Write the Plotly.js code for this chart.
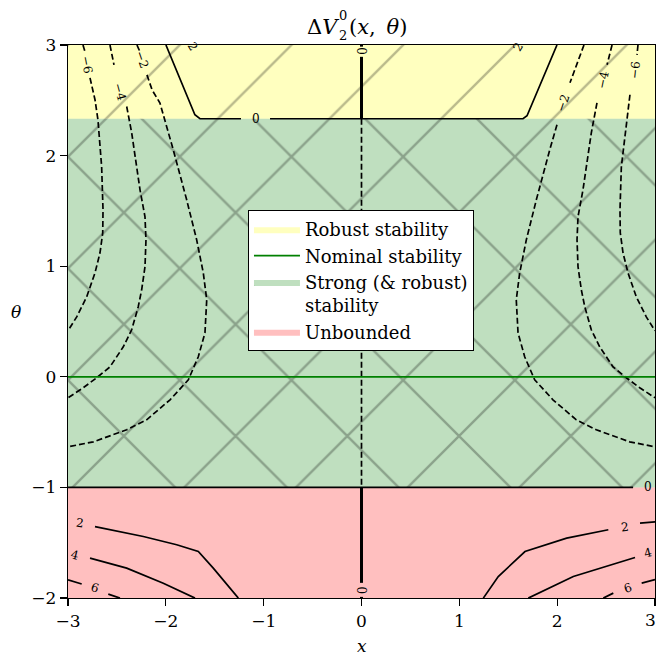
<!DOCTYPE html>
<html><head><meta charset="utf-8">
<script src="https://cdn.plot.ly/plotly-3.0.1.min.js"></script>
<style>html,body{margin:0;padding:0;background:#fff}</style>
</head><body><div id="chart" style="width:657px;height:655px"></div>
<script>
// ---- axis ticks ----
const xTicks = [-3, -2, -1, 0, 1, 2, 3];
const xTickText = ['\u22123', '\u22122', '\u22121', '0', '1', '2', ''];
const xLastTick = '3';
const yTicks = [-2, -1, 0, 1, 2, 3];

// ---- stability regions (theta bounds) ----
const xEdges = [-3, 3];
const thetaTop = 3;
const robustLow = 2.333;
const strongLow = -1;
const thetaBottom = -2;
const nominalTheta = 0;

// ---- contour level -6 (dashed) ----
const cm6L_x = [-2.847, -2.826, null, -2.775, -2.724, -2.694, -2.656, -2.642, -2.645, -2.673, -2.724, -2.809, -2.911, -3.0];
const cm6L_y = [3.0, 2.939, null, 2.703, 2.505, 2.324, 1.899, 1.510, 1.302, 1.121, 0.940, 0.723, 0.542, 0.416];
const cm6R_x = [2.826, 2.816, null, 2.744, 2.714, 2.656, 2.642, 2.645, 2.673, 2.724, 2.809, 2.911, 3.0];
const cm6R_y = [3.0, 2.911, null, 2.550, 2.342, 1.899, 1.510, 1.302, 1.121, 0.940, 0.723, 0.542, 0.416];
// ---- contour level -4 (dashed) ----
const cm4L_x = [-2.571, -2.530, null, -2.400, -2.349, -2.264, -2.213, -2.203, -2.213, -2.247, -2.282, -2.349, -2.435, -2.571, -2.707, -2.844, -3.0];
const cm4L_y = [3.0, 2.821, null, 2.444, 2.206, 1.691, 1.447, 1.239, 0.995, 0.787, 0.633, 0.425, 0.271, 0.090, -0.009, -0.099, -0.190];
const cm4R_x = [2.561, 2.510, null, 2.407, 2.349, 2.264, 2.213, 2.203, 2.213, 2.247, 2.282, 2.349, 2.435, 2.571, 2.707, 2.844, 3.0];
const cm4R_y = [3.0, 2.821, null, 2.477, 2.206, 1.691, 1.447, 1.239, 0.995, 0.787, 0.633, 0.425, 0.271, 0.090, -0.009, -0.099, -0.190];
// ---- contour level -2 (dashed) ----
const cm2L_x = [-2.295, -2.269, null, -2.193, -2.141, -2.060, -1.924, -1.787, -1.685, -1.617, -1.582, -1.600, -1.668, -1.770, -1.957, -2.196, -2.400, -2.741, -3.0];
const cm2L_y = [3.0, 2.948, null, 2.730, 2.595, 2.475, 2.052, 1.600, 1.239, 0.940, 0.696, 0.398, 0.181, -0.027, -0.208, -0.389, -0.479, -0.588, -0.633];
const cm2R_x = [2.274, 2.203, 2.131, null, 1.998, 1.924, 1.787, 1.685, 1.617, 1.582, 1.600, 1.668, 1.770, 1.957, 2.196, 2.400, 2.741, 3.0];
const cm2R_y = [3.0, 2.821, 2.658, null, 2.279, 2.052, 1.600, 1.239, 0.940, 0.696, 0.398, 0.181, -0.027, -0.208, -0.389, -0.479, -0.588, -0.633];

// ---- contour level 0 (solid / dashed) ----
const c0top_x = [-1.999, -1.703, -1.651, -1.232, null, -0.935, 1.651, 1.692, 1.998];
const c0top_y = [3.0, 2.369, 2.333, 2.333, null, 2.333, 2.333, 2.360, 3.0];
const c0vTop_x = [0, 0, null, 0, 0];
const c0vTop_y = [3.0, 2.985, null, 2.893, 2.333];
const c0vMid_x = [0, 0];
const c0vMid_y = [2.333, -1.0];
const c0vBot_x = [0, 0, null, 0, 0];
const c0vBot_y = [-1.0, -1.863, null, -1.99, -2.0];
const c0h_x = [-3.0, 2.776];
const c0h_y = [-1.0, -1.0];

// ---- contour levels 2, 4, 6 (solid) ----
const c2L_x = [-2.724, -2.230, -1.889, -1.668, -1.515, -1.378, -1.259];
const c2L_y = [-1.354, -1.444, -1.519, -1.580, -1.730, -1.870, -2.001];
const c2R_x = [1.245, 1.398, 1.671, 2.097, 2.523, null, 2.847, 2.983, 3.0];
const c2R_y = [-2.001, -1.806, -1.580, -1.459, -1.383, null, -1.323, -1.314, -1.312];
const c4L_x = [-2.775, -2.400, -2.026, -1.702];
const c4L_y = [-1.639, -1.730, -1.866, -2.001];
const c4R_x = [1.705, 2.165, 2.796];
const c4R_y = [-2.001, -1.806, -1.634];
const c6L_x = [-3.0, -2.860, null, -2.588, -2.469];
const c6L_y = [-1.835, -1.874, null, -1.965, -2.001];
const c6R_x = [2.472, 2.574, null, 2.864, 2.983, 3.0];
const c6R_y = [-2.001, -1.956, null, -1.865, -1.835, -1.833];

// ---- contour labels ----
const lblText = ['\u22126', '\u22124', '\u22122', '\u22122', '\u22124', '\u22126', '0', '0', '0', '0', '2', '4', '6', '2', '4', '6', '2', '2'];
const lblX = [-2.806, -2.469, -2.243, 2.060, 2.469, 2.796, -1.078, 0, 0, 2.929, -2.877, -2.929, -2.724, 2.693, 2.929, 2.724, -1.722, 1.600];
const lblY = [2.821, 2.577, 2.866, 2.477, 2.685, 2.776, 2.333, 2.948, -1.927, -1.0, -1.320, -1.609, -1.908, -1.356, -1.591, -1.908, 2.985, 2.985];
const lblAngle = [79, 75, 71, -71, -78, -84, 0, 90, 90, 0, 8, 14, 18, -6, -14, -18, 60, -60];

const FONT = 'DejaVu Serif';
const HATCH = 'black';

function cline(x, y, dashed, w) {
  return {type: 'scatter', mode: 'lines', x: x, y: y, showlegend: false, hoverinfo: 'skip',
          connectgaps: false,
          line: {color: 'black', width: w || 1.7, dash: dashed ? '6px,3px' : 'solid'}};
}

const traces = [
  {type: 'scatter', mode: 'lines', name: 'Robust stability', legendrank: 1,
   x: [xEdges[0], xEdges[1], xEdges[1], xEdges[0], xEdges[0]],
   y: [robustLow, robustLow, thetaTop, thetaTop, robustLow],
   fill: 'toself', fillcolor: 'rgba(255,255,0,0.25)', line: {width: 0},
   fillpattern: {shape: '/', fgcolor: HATCH, fgopacity: 0.27, size: 79, solidity: 0.03, fillmode: 'overlay'}},
  {type: 'scatter', mode: 'lines', name: 'Strong (& robust)<br>stability', legendrank: 3,
   x: [xEdges[0], xEdges[1], xEdges[1], xEdges[0], xEdges[0]],
   y: [strongLow, strongLow, robustLow, robustLow, strongLow],
   fill: 'toself', fillcolor: 'rgba(0,128,0,0.25)', line: {width: 0},
   fillpattern: {shape: 'x', fgcolor: HATCH, fgopacity: 0.27, size: 79, solidity: 0.06, fillmode: 'overlay'}},
  {type: 'scatter', mode: 'lines', name: 'Unbounded', legendrank: 4,
   x: [xEdges[0], xEdges[1], xEdges[1], xEdges[0], xEdges[0]],
   y: [thetaBottom, thetaBottom, strongLow, strongLow, thetaBottom],
   fill: 'toself', fillcolor: 'rgba(255,0,0,0.25)', line: {width: 0}},
  cline(cm6L_x, cm6L_y, true), cline(cm6R_x, cm6R_y, true),
  cline(cm4L_x, cm4L_y, true), cline(cm4R_x, cm4R_y, true),
  cline(cm2L_x, cm2L_y, true), cline(cm2R_x, cm2R_y, true),
  cline(c0top_x, c0top_y, false),
  cline(c0vTop_x, c0vTop_y, false, 3),
  cline(c0vMid_x, c0vMid_y, true),
  cline(c0vBot_x, c0vBot_y, false, 3),
  cline(c0h_x, c0h_y, false),
  cline(c2L_x, c2L_y, false), cline(c2R_x, c2R_y, false),
  cline(c4L_x, c4L_y, false), cline(c4R_x, c4R_y, false),
  cline(c6L_x, c6L_y, false), cline(c6R_x, c6R_y, false),
  {type: 'scatter', mode: 'lines', name: 'Nominal stability', legendrank: 2,
   x: xEdges, y: [nominalTheta, nominalTheta], line: {color: 'green', width: 1.7}}
];

const annotations = lblText.map((t, i) => ({
  text: t, x: lblX[i], y: lblY[i], xref: 'x', yref: 'y', showarrow: false,
  textangle: lblAngle[i], font: {family: FONT, size: 12, color: 'black'}
}));
// title pieces
const tFont = {family: FONT, size: 21, color: 'black'};
const sFont = {family: FONT, size: 13, color: 'black'};
const axFont = {family: FONT, size: 17, color: 'black'};
annotations.push(
  {text: '\u0394<i>V</i>', xref: 'paper', yref: 'paper', x: 0.4634, y: 1.0325, xanchor: 'right', yanchor: 'middle', showarrow: false, font: tFont, borderpad: 0},
  {text: '0', xref: 'paper', yref: 'paper', x: 0.4600, y: 1.053, xanchor: 'left', yanchor: 'middle', showarrow: false, font: sFont, borderpad: 0},
  {text: '2', xref: 'paper', yref: 'paper', x: 0.4600, y: 1.017, xanchor: 'left', yanchor: 'middle', showarrow: false, font: sFont, borderpad: 0},
  {text: '(<i>x</i>,\u00a0\u2009<i>\u03b8</i>)', xref: 'paper', yref: 'paper', x: 0.4770, y: 1.0325, xanchor: 'left', yanchor: 'middle', showarrow: false, font: tFont, borderpad: 0},
  {text: '<i>x</i>', xref: 'paper', yref: 'paper', x: 0.5, y: -0.106, xanchor: 'center', yanchor: 'bottom', showarrow: false, font: axFont, borderpad: 0},
  {text: '<i>\u03b8</i>', xref: 'paper', yref: 'paper', x: -0.0886, y: 0.517, xanchor: 'center', yanchor: 'middle', showarrow: false, font: axFont},
  {text: xLastTick, xref: 'paper', yref: 'paper', x: 1.0034, y: -0.0395, xanchor: 'right', yanchor: 'middle', showarrow: false, font: axFont, borderpad: 0}
);

const axisCommon = {
  showgrid: false, zeroline: false, showline: true, linecolor: 'black', linewidth: 1.2, mirror: true,
  ticks: 'outside', ticklen: 7, tickwidth: 1.2, tickcolor: 'black',
  tickfont: axFont, fixedrange: true
};

const layout = {
  width: 657, height: 655, autosize: false,
  margin: {l: 68, r: 2, t: 45, b: 57},
  paper_bgcolor: 'white', plot_bgcolor: 'white',
  xaxis: Object.assign({}, axisCommon, {range: [-3, 3], tickmode: 'array', tickvals: xTicks, ticktext: xTickText}),
  yaxis: Object.assign({}, axisCommon, {range: [-2, 3], tickvals: yTicks}),
  showlegend: true,
  legend: {x: 0.3066, y: 0.7016, xanchor: 'left', yanchor: 'top', bgcolor: 'white',
           bordercolor: 'black', borderwidth: 1, font: {family: FONT, size: 18, color: 'black'},
           tracegroupgap: 0, valign: 'top', itemwidth: 46},
  annotations: annotations
};

Plotly.newPlot('chart', traces, layout, {displayModeBar: false, staticPlot: true});
</script></body></html>
